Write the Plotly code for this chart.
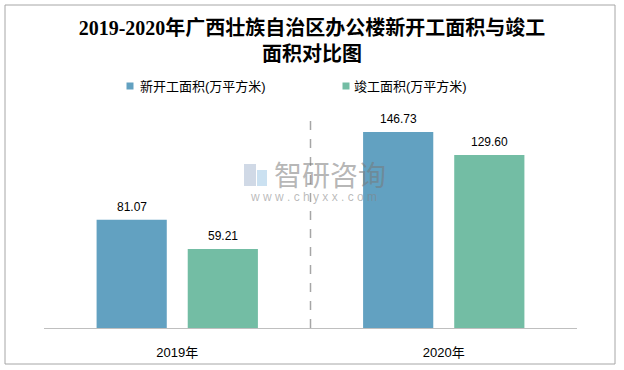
import plotly.graph_objects as go

categories = ["2019年", "2020年"]
series_names = ["新开工面积(万平方米)", "竣工面积(万平方米)"]
new_start = [81.07, 146.73]
completed = [59.21, 129.60]
colors = ["#62A1C1", "#73BDA4"]

title_text = "<b>2019-2020年广西壮族自治区办公楼新开工面积与竣工<br>面积对比图</b>"

# plot-area geometry helpers (pixels -> paper)
L, R, T, B, W, H = 44, 47, 110, 42, 624, 370
PW, PH = W - L - R, H - T - B
def px(x):
    return (x - L) / PW
def py(y):
    return (H - B - y) / PH

fig = go.Figure()
for name, vals, col in zip(series_names, [new_start, completed], colors):
    fig.add_trace(go.Bar(x=categories, y=vals, name=name, marker_color=col,
                         marker_line_width=0, showlegend=False))

# data labels
shifts = [-45.5, 45.5]
for vals, xs in zip([new_start, completed], shifts):
    for c, v in zip(categories, vals):
        fig.add_annotation(x=c, y=v, text=f"{v:.2f}", showarrow=False,
                           xshift=xs, yshift=4, yanchor="bottom",
                           font=dict(size=12, color="#000000",
                                     family="Liberation Sans, Arial, sans-serif"))

# legend (manual)
legend_pos = [(130, 138), (346, 352)]
for name, col, (mx, tx) in zip(series_names, colors, legend_pos):
    fig.add_shape(type="rect", xref="paper", yref="paper",
                  x0=px(mx - 3.5), x1=px(mx + 3.5), y0=py(89.5), y1=py(82.5),
                  fillcolor=col, line_width=0)
    fig.add_annotation(xref="paper", yref="paper", x=px(tx), y=py(86), text=name,
                       xanchor="left", yanchor="middle", showarrow=False,
                       font=dict(size=13, color="#000000",
                                 family="Liberation Sans, Noto Sans CJK SC"))

# separator between categories
fig.add_shape(type="line", xref="x", yref="paper", x0=0.5, x1=0.5, y0=0, y1=py(114),
              line=dict(color="#A6A6A6", width=1.5, dash="dash"))

# outer border
fig.add_shape(type="rect", xref="paper", yref="paper",
              x0=px(5), x1=px(615), y0=py(364), y1=py(5),
              line=dict(color="#A6A6A6", width=1))

# watermark
fig.add_shape(type="rect", xref="paper", yref="paper",
              x0=px(244), x1=px(256), y0=py(186), y1=py(164),
              fillcolor="rgba(170,185,210,0.55)", line_width=0)
fig.add_shape(type="rect", xref="paper", yref="paper",
              x0=px(257), x1=px(267), y0=py(186), y1=py(170),
              fillcolor="rgba(160,200,230,0.55)", line_width=0)
fig.add_annotation(xref="paper", yref="paper", x=px(330), y=py(174), text="智研咨询",
                   yanchor="middle", showarrow=False,
                   font=dict(size=28, color="rgba(120,120,120,0.55)",
                             family="Noto Sans CJK SC"))
fig.add_annotation(xref="paper", yref="paper", x=px(313), y=py(197),
                   text="w w w . c h y x x . c o m", yanchor="middle",
                   showarrow=False, font=dict(size=12, color="rgba(130,130,130,0.55)",
                                               family="Liberation Sans"))

fig.update_layout(
    width=W, height=H,
    margin=dict(l=L, r=R, t=T, b=B),
    paper_bgcolor="white", plot_bgcolor="white",
    barmode="group", bargap=0.316, bargroupgap=0.23,
    showlegend=False,
    title=dict(text=title_text, x=0.5, xanchor="center", xref="container",
               y=0.906, yanchor="top", yref="container",
               font=dict(size=20, color="#000000",
                         family="Liberation Serif, Times New Roman, Noto Sans CJK SC")),
    font=dict(family="Liberation Sans, Noto Sans CJK SC", color="#000000"),
    xaxis=dict(showline=True, linecolor="#BFBFBF", linewidth=1, showgrid=False,
               ticks="", ticklabelstandoff=12, automargin=False,
               tickfont=dict(size=13, color="#000000", family="Liberation Sans, Noto Sans CJK SC")),
    yaxis=dict(range=[0, 163.3], showgrid=False, showticklabels=False, zeroline=False,
               showline=False, automargin=False),
)

fig.write_html("out.html", config={"displayModeBar": False},
               post_script="document.body.style.margin='0';")
